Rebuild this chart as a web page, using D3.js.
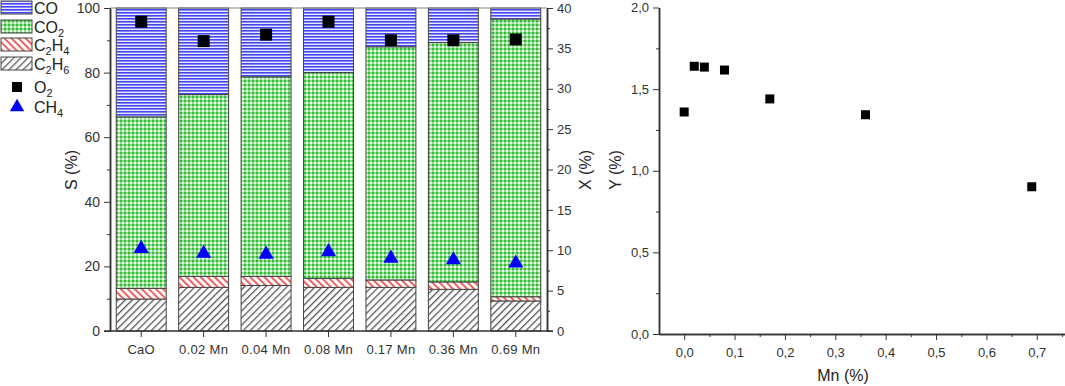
<!DOCTYPE html>
<html>
<head>
<meta charset="utf-8">
<script src="https://cdn.jsdelivr.net/npm/d3@7"></script>
<style>
  body { margin: 0; background: #fff; }
  svg { font-family: "Liberation Sans", Arial, sans-serif; display: block; }
</style>
</head>
<body>
<script>
// ---- data ----
let categories = ["CaO", "0.02 Mn", "0.04 Mn", "0.08 Mn", "0.17 Mn", "0.36 Mn", "0.69 Mn"];
let c2h6 = [9.9, 13.5, 14.1, 13.5, 13.5, 12.9, 9.3];
let c2h4 = [3.3, 3.4, 2.8, 2.8, 2.3, 2.3, 1.3];
let co2  = [53.1, 56.3, 61.8, 63.7, 72.2, 74.1, 86.0];
let co   = [33.7, 26.8, 21.3, 20.0, 12.0, 10.7, 3.4];
let o2   = [38.3, 35.9, 36.7, 38.3, 36.0, 36.0, 36.1];
let ch4  = [10.2, 9.6, 9.5, 9.8, 9.0, 8.8, 8.4];

let mn = [0.0, 0.02, 0.04, 0.08, 0.17, 0.36, 0.69];
let yVal = [1.36, 1.64, 1.635, 1.617, 1.44, 1.343, 0.902];

const W = 1065, H = 386;
const axisColor = "#333";

let svg = d3.select("body").append("svg")
    .attr("width", W)
    .attr("height", H);

// ---- patterns ----
let defs = svg.append("defs");

let pCO = defs.append("pattern").attr("id", "pCO")
    .attr("patternUnits", "userSpaceOnUse").attr("width", 4).attr("height", 3);
pCO.append("rect").attr("width", 4).attr("height", 3).attr("fill", "#e8e8ff");
pCO.append("rect").attr("width", 4).attr("height", 1.6).attr("fill", "#4646f0");

let pCO2 = defs.append("pattern").attr("id", "pCO2")
    .attr("patternUnits", "userSpaceOnUse").attr("width", 4).attr("height", 4);
pCO2.append("rect").attr("width", 4).attr("height", 4).attr("fill", "#8fe08f");
pCO2.append("rect").attr("x", 0).attr("y", 0).attr("width", 2).attr("height", 2).attr("fill", "#35b835");
pCO2.append("rect").attr("x", 2).attr("y", 2).attr("width", 2).attr("height", 2).attr("fill", "#e4fae4");

let pC2H4 = defs.append("pattern").attr("id", "pC2H4")
    .attr("patternUnits", "userSpaceOnUse").attr("width", 5).attr("height", 5)
    .attr("patternTransform", "rotate(-45)");
pC2H4.append("rect").attr("width", 5).attr("height", 5).attr("fill", "#fff");
pC2H4.append("rect").attr("width", 2).attr("height", 5).attr("fill", "#f06060");

let pC2H6 = defs.append("pattern").attr("id", "pC2H6")
    .attr("patternUnits", "userSpaceOnUse").attr("width", 5).attr("height", 5)
    .attr("patternTransform", "rotate(45)");
pC2H6.append("rect").attr("width", 5).attr("height", 5).attr("fill", "#fff");
pC2H6.append("rect").attr("width", 1.3).attr("height", 5).attr("fill", "#555");

let series = [
    {key: "C2H6", values: c2h6, fill: "url(#pC2H6)"},
    {key: "C2H4", values: c2h4, fill: "url(#pC2H4)"},
    {key: "CO2", values: co2, fill: "url(#pCO2)"},
    {key: "CO", values: co, fill: "url(#pCO)"}
];

// ---- left chart ----
let L = {left: 110, right: 547, top: 8, bottom: 331};

let x = d3.scaleBand(categories, [L.left, L.right]).paddingInner(0.2).paddingOuter(0.1);
let yS = d3.scaleLinear([0, 100], [L.bottom, L.top]);
let yX = d3.scaleLinear([0, 40], [L.bottom, L.top]);

let rows = categories.map((c, i) => {
    let r = {cat: c};
    series.forEach(s => r[s.key] = s.values[i]);
    return r;
});
let stacked = d3.stack().keys(series.map(s => s.key))(rows);

let barG = svg.append("g");
stacked.forEach((layer, li) => {
    barG.append("g")
        .selectAll("rect")
        .data(layer)
        .join("rect")
          .attr("x", d => x(d.data.cat))
          .attr("width", x.bandwidth())
          .attr("y", d => yS(d[1]))
          .attr("height", d => yS(d[0]) - yS(d[1]))
          .attr("fill", series[li].fill)
          .attr("stroke", "#444")
          .attr("stroke-width", 1);
});

// frame top line
svg.append("line")
    .attr("x1", L.left).attr("x2", L.right)
    .attr("y1", L.top).attr("y2", L.top)
    .attr("stroke", "#888").attr("stroke-width", 1.2);

function styleAxis(g) {
    g.selectAll("path, line").attr("stroke", axisColor);
    g.select(".domain").attr("stroke-width", 1.5);
    g.selectAll("text").attr("fill", axisColor);
}

// left axis
svg.append("g")
    .attr("transform", `translate(${L.left},0)`)
    .call(d3.axisLeft(yS).tickValues(d3.range(10, 100, 20)).tickSize(3).tickFormat("").tickSizeOuter(0))
    .call(styleAxis);
svg.append("g")
    .attr("transform", `translate(${L.left},0)`)
    .call(d3.axisLeft(yS).tickValues(d3.range(0, 101, 20)).tickSize(6).tickSizeOuter(0).tickPadding(4))
    .call(g => g.selectAll("text").attr("font-size", 14))
    .call(styleAxis);

// right axis
svg.append("g")
    .attr("transform", `translate(${L.right},0)`)
    .call(d3.axisRight(yX).tickValues(d3.range(2.5, 40, 5)).tickSize(3).tickFormat("").tickSizeOuter(0))
    .call(styleAxis);
svg.append("g")
    .attr("transform", `translate(${L.right},0)`)
    .call(d3.axisRight(yX).tickValues(d3.range(0, 41, 5)).tickSize(6).tickSizeOuter(0).tickPadding(4))
    .call(g => g.selectAll("text").attr("font-size", 13))
    .call(styleAxis);

// bottom axis
svg.append("g")
    .attr("transform", `translate(0,${L.bottom})`)
    .call(d3.axisBottom(x).tickSize(6).tickSizeOuter(0).tickPadding(8))
    .call(g => g.select(".domain").attr("d", `M${L.left - 6},0H${L.right + 6}`))
    .call(g => g.selectAll("text").attr("font-size", 13).attr("letter-spacing", "0.3px"))
    .call(styleAxis);

// markers
let mid = d => x(d) + x.bandwidth() / 2;
svg.append("g")
    .selectAll("rect")
    .data(categories)
    .join("rect")
      .attr("x", (d, i) => mid(d) - 6)
      .attr("y", (d, i) => yX(o2[i]) - 6)
      .attr("width", 12).attr("height", 12)
      .attr("fill", "#000");

svg.append("g")
    .selectAll("path")
    .data(categories)
    .join("path")
      .attr("d", d3.symbol(d3.symbolTriangle, 100))
      .attr("transform", (d, i) => `translate(${mid(d)},${yX(ch4[i])})`)
      .attr("fill", "#0000ff");

// axis titles
svg.append("text")
    .attr("transform", "translate(77,170) rotate(-90)")
    .attr("text-anchor", "middle")
    .attr("font-size", 16).attr("fill", "#222")
    .text("S (%)");
svg.append("text")
    .attr("transform", "translate(591,170) rotate(-90)")
    .attr("text-anchor", "middle")
    .attr("font-size", 16).attr("fill", "#222")
    .text("X (%)");

// legend
let legendItems = [
    {base: "CO", sub: "", fill: "url(#pCO)"},
    {base: "CO", sub: "2", fill: "url(#pCO2)"},
    {base: "C", sub: "2", base2: "H", sub2: "4", fill: "url(#pC2H4)"},
    {base: "C", sub: "2", base2: "H", sub2: "6", fill: "url(#pC2H6)"}
];
let legY = [1, 20, 38, 57];
let leg = svg.append("g");
legendItems.forEach((it, i) => {
    leg.append("rect")
        .attr("x", 1).attr("y", legY[i])
        .attr("width", 31).attr("height", 13)
        .attr("fill", it.fill)
        .attr("stroke", "#444");
    let t = leg.append("text")
        .attr("x", 34).attr("y", legY[i] + 13)
        .attr("font-size", 16).attr("fill", "#222");
    t.append("tspan").text(it.base);
    if (it.sub) t.append("tspan").attr("dy", 4).attr("font-size", 11).text(it.sub);
    if (it.base2) {
        t.append("tspan").attr("dy", -4).text(it.base2);
        t.append("tspan").attr("dy", 4).attr("font-size", 11).text(it.sub2);
    }
});
leg.append("rect").attr("x", 12).attr("y", 82).attr("width", 10).attr("height", 10).attr("fill", "#000");
let tO = leg.append("text").attr("x", 34).attr("y", 93).attr("font-size", 16).attr("fill", "#222");
tO.append("tspan").text("O");
tO.append("tspan").attr("dy", 4).attr("font-size", 11).text("2");
leg.append("path")
    .attr("d", d3.symbol(d3.symbolTriangle, 90))
    .attr("transform", "translate(17,107)")
    .attr("fill", "#0000ff");
let tC = leg.append("text").attr("x", 34).attr("y", 113).attr("font-size", 16).attr("fill", "#222");
tC.append("tspan").text("CH");
tC.append("tspan").attr("dy", 4).attr("font-size", 11).text("4");

// ---- right chart ----
let R = {left: 659, right: 1067, top: 7.5, bottom: 334};
let xm = d3.scaleLinear([-0.05, 0.76], [R.left, R.right]);
let ym = d3.scaleLinear([0, 2], [R.bottom, R.top]);
let comma = d => d3.format(".1f")(d).replace(".", ",");

svg.append("g")
    .attr("transform", `translate(${R.left},0)`)
    .call(d3.axisLeft(ym).tickValues(d3.range(0.25, 2, 0.5)).tickSize(3).tickFormat("").tickSizeOuter(0))
    .call(styleAxis);
svg.append("g")
    .attr("transform", `translate(${R.left},0)`)
    .call(d3.axisLeft(ym).tickValues([0, 0.5, 1, 1.5, 2]).tickSize(6).tickSizeOuter(0).tickPadding(4).tickFormat(comma))
    .call(g => g.selectAll("text").attr("font-size", 13))
    .call(styleAxis);

svg.append("g")
    .attr("transform", `translate(0,${R.bottom})`)
    .call(d3.axisBottom(xm).tickValues(d3.range(0.05, 0.76, 0.1)).tickSize(3).tickFormat("").tickSizeOuter(0))
    .call(styleAxis);
svg.append("g")
    .attr("transform", `translate(0,${R.bottom})`)
    .call(d3.axisBottom(xm).tickValues(d3.range(0, 0.71, 0.1)).tickSize(6).tickSizeOuter(0).tickPadding(8).tickFormat(comma))
    .call(g => g.selectAll("text").attr("font-size", 13))
    .call(styleAxis);

svg.append("g")
    .selectAll("rect")
    .data(mn)
    .join("rect")
      .attr("x", (d, i) => xm(d) - 4.5)
      .attr("y", (d, i) => ym(yVal[i]) - 4.5)
      .attr("width", 9).attr("height", 9)
      .attr("fill", "#000");

svg.append("text")
    .attr("transform", "translate(621,170) rotate(-90)")
    .attr("text-anchor", "middle")
    .attr("font-size", 16).attr("fill", "#222")
    .text("Y (%)");
svg.append("text")
    .attr("x", 843).attr("y", 381)
    .attr("text-anchor", "middle")
    .attr("font-size", 16).attr("fill", "#222")
    .text("Mn (%)");
</script>
</body>
</html>
